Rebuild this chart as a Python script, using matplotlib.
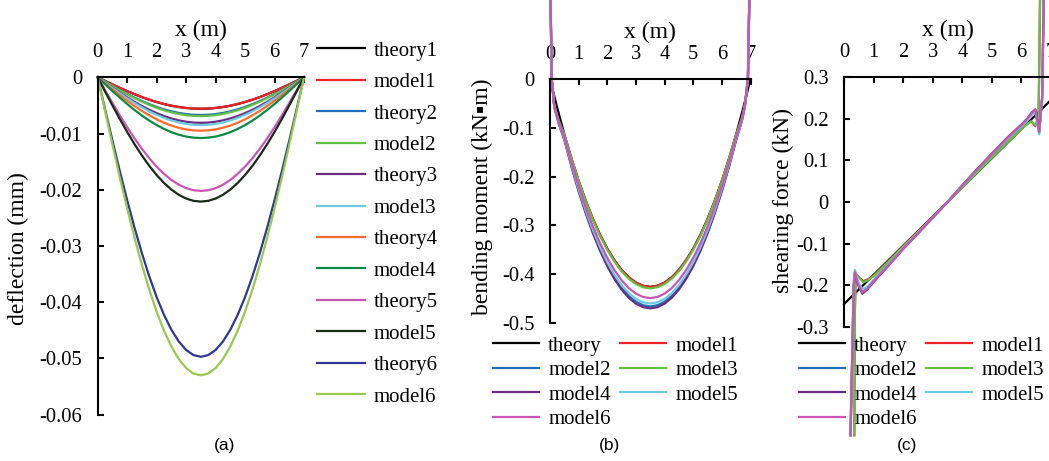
import numpy as np
import matplotlib
matplotlib.use('Agg')
import matplotlib.pyplot as plt

plt.rcParams['font.family'] = ['Liberation Serif', 'DejaVu Serif', 'DejaVu Sans']
plt.rcParams['axes.unicode_minus'] = False
plt.rcParams['font.size'] = 14.8

# ---- (a) deflection ----
x_a = [0, 0.25, 0.5, 0.75, 1, 1.25, 1.5, 1.75, 2, 2.25, 2.5, 2.75, 3, 3.25, 3.5,
       3.75, 4, 4.25, 4.5, 4.75, 5, 5.25, 5.5, 5.75, 6, 6.25, 6.5, 6.75, 7]
theory1 = [0, -0.00064, -0.00127, -0.00188, -0.00246, -0.00301, -0.00353, -0.00399, -0.00440, -0.00476, -0.00506, -0.00529, -0.00546, -0.00557, -0.0056,
           -0.00557, -0.00546, -0.00529, -0.00506, -0.00476, -0.00440, -0.00399, -0.00353, -0.00301, -0.00246, -0.00188, -0.00127, -0.00064, 0]
model1 = [0, -0.00064, -0.00126, -0.00187, -0.00245, -0.00300, -0.00351, -0.00398, -0.00439, -0.00474, -0.00504, -0.00527, -0.00544, -0.00555, -0.00558,
          -0.00555, -0.00544, -0.00527, -0.00504, -0.00474, -0.00439, -0.00398, -0.00351, -0.00300, -0.00245, -0.00187, -0.00126, -0.00064, 0]
theory2 = [0, -0.00076, -0.00152, -0.00225, -0.00295, -0.00361, -0.00422, -0.00477, -0.00527, -0.00570, -0.00605, -0.00633, -0.00654, -0.00666, -0.0067,
           -0.00666, -0.00654, -0.00633, -0.00605, -0.00570, -0.00527, -0.00477, -0.00422, -0.00361, -0.00295, -0.00225, -0.00152, -0.00076, 0]
model2 = [0, -0.00079, -0.00156, -0.00231, -0.00303, -0.00371, -0.00434, -0.00492, -0.00543, -0.00587, -0.00623, -0.00652, -0.00673, -0.00686, -0.0069,
          -0.00686, -0.00673, -0.00652, -0.00623, -0.00587, -0.00543, -0.00492, -0.00434, -0.00371, -0.00303, -0.00231, -0.00156, -0.00079, 0]
theory3 = [0, -0.00092, -0.00183, -0.00272, -0.00356, -0.00436, -0.00510, -0.00577, -0.00637, -0.00689, -0.00732, -0.00766, -0.00790, -0.00805, -0.0081,
           -0.00805, -0.00790, -0.00766, -0.00732, -0.00689, -0.00637, -0.00577, -0.00510, -0.00436, -0.00356, -0.00272, -0.00183, -0.00092, 0]
model3 = [0, -0.00097, -0.00192, -0.00285, -0.00374, -0.00457, -0.00535, -0.00606, -0.00668, -0.00723, -0.00768, -0.00804, -0.00829, -0.00845, -0.0085,
          -0.00845, -0.00829, -0.00804, -0.00768, -0.00723, -0.00668, -0.00606, -0.00535, -0.00457, -0.00374, -0.00285, -0.00192, -0.00097, 0]
theory4 = [0, -0.00108, -0.00215, -0.00319, -0.00418, -0.00511, -0.00598, -0.00677, -0.00747, -0.00808, -0.00858, -0.00898, -0.00927, -0.00944, -0.0095,
           -0.00944, -0.00927, -0.00898, -0.00858, -0.00808, -0.00747, -0.00677, -0.00598, -0.00511, -0.00418, -0.00319, -0.00215, -0.00108, 0]
model4 = [0, -0.00123, -0.00244, -0.00362, -0.00475, -0.00581, -0.00680, -0.00770, -0.00849, -0.00918, -0.00976, -0.01021, -0.01054, -0.01073, -0.0108,
          -0.01073, -0.01054, -0.01021, -0.00976, -0.00918, -0.00849, -0.00770, -0.00680, -0.00581, -0.00475, -0.00362, -0.00244, -0.00123, 0]
theory5 = [0, -0.00230, -0.00457, -0.00678, -0.00888, -0.01087, -0.01272, -0.01439, -0.01588, -0.01717, -0.01825, -0.01910, -0.01971, -0.02008, -0.0202,
           -0.02008, -0.01971, -0.01910, -0.01825, -0.01717, -0.01588, -0.01439, -0.01272, -0.01087, -0.00888, -0.00678, -0.00457, -0.00230, 0]
model5 = [0, -0.00252, -0.00500, -0.00741, -0.00972, -0.01189, -0.01391, -0.01575, -0.01738, -0.01879, -0.01996, -0.02089, -0.02156, -0.02197, -0.0221,
          -0.02197, -0.02156, -0.02089, -0.01996, -0.01879, -0.01738, -0.01575, -0.01391, -0.01189, -0.00972, -0.00741, -0.00500, -0.00252, 0]
theory6 = [0, -0.00567, -0.01125, -0.01667, -0.02186, -0.02675, -0.03129, -0.03541, -0.03908, -0.04225, -0.04489, -0.04698, -0.04849, -0.04940, -0.0497,
           -0.04940, -0.04849, -0.04698, -0.04489, -0.04225, -0.03908, -0.03541, -0.03129, -0.02675, -0.02186, -0.01667, -0.01125, -0.00567, 0]
model6 = [0, -0.00604, -0.01199, -0.01778, -0.02331, -0.02852, -0.03336, -0.03776, -0.04167, -0.04506, -0.04787, -0.05010, -0.05171, -0.05268, -0.0530,
          -0.05268, -0.05171, -0.05010, -0.04787, -0.04506, -0.04167, -0.03776, -0.03336, -0.02852, -0.02331, -0.01778, -0.01199, -0.00604, 0]
labels_a = ['theory1', 'model1', 'theory2', 'model2', 'theory3', 'model3',
            'theory4', 'model4', 'theory5', 'model5', 'theory6', 'model6']
yticks_a = [0, -0.01, -0.02, -0.03, -0.04, -0.05, -0.06]
ylabels_a = ['0', '-0.01', '-0.02', '-0.03', '-0.04', '-0.05', '-0.06']

# ---- (b) bending moment ----
x_b_theory = x_a
theory_b = [0, -0.0587, -0.1130, -0.1630, -0.2087, -0.2499, -0.2869, -0.3195, -0.3477, -0.3716, -0.3912, -0.4064, -0.4173, -0.4238, -0.426,
            -0.4238, -0.4173, -0.4064, -0.3912, -0.3716, -0.3477, -0.3195, -0.2869, -0.2499, -0.2087, -0.1630, -0.1130, -0.0587, 0]
x_b_model = [0.01, 0.06, 0.15, 0.3, 0.5, 0.75, 1, 1.25, 1.5, 1.75, 2, 2.25, 2.5, 2.75, 3, 3.25, 3.5,
             3.75, 4, 4.25, 4.5, 4.75, 5, 5.25, 5.5, 5.75, 6, 6.25, 6.5, 6.7, 6.8, 6.91, 6.97]
model1_b = [0.2, 0.0, -0.055, -0.085, -0.115, -0.163, -0.2087, -0.2499, -0.2869, -0.3195, -0.3477, -0.3716, -0.3912, -0.4064, -0.4173, -0.4238, -0.426,
            -0.4238, -0.4173, -0.4064, -0.3912, -0.3716, -0.3477, -0.3195, -0.2869, -0.2499, -0.2087, -0.163, -0.115, -0.08, -0.055, 0.0, 0.2]
model2_b = [0.2, 0.0, -0.058, -0.09, -0.1236, -0.1783, -0.2282, -0.2734, -0.3139, -0.3495, -0.3804, -0.4065, -0.4280, -0.4446, -0.4565, -0.4636, -0.466,
            -0.4636, -0.4565, -0.4446, -0.4280, -0.4065, -0.3804, -0.3495, -0.3139, -0.2734, -0.2282, -0.1783, -0.1236, -0.085, -0.058, 0.0, 0.2]
model3_b = [0.2, 0.0, -0.055, -0.085, -0.1138, -0.1642, -0.2101, -0.2517, -0.2889, -0.3218, -0.3502, -0.3743, -0.3940, -0.4093, -0.4203, -0.4268, -0.429,
            -0.4268, -0.4203, -0.4093, -0.3940, -0.3743, -0.3502, -0.3218, -0.2889, -0.2517, -0.2101, -0.1642, -0.1138, -0.08, -0.055, 0.0, 0.2]
model4_b = [0.2, 0.0, -0.058, -0.09, -0.1247, -0.1799, -0.2302, -0.2757, -0.3165, -0.3525, -0.3837, -0.4100, -0.4316, -0.4484, -0.4604, -0.4676, -0.470,
            -0.4676, -0.4604, -0.4484, -0.4316, -0.4100, -0.3837, -0.3525, -0.3165, -0.2757, -0.2302, -0.1799, -0.1247, -0.085, -0.058, 0.0, 0.2]
model5_b = [0.2, 0.0, -0.057, -0.088, -0.1220, -0.1760, -0.2253, -0.2699, -0.3098, -0.3450, -0.3755, -0.4013, -0.4225, -0.4389, -0.4506, -0.4577, -0.460,
            -0.4577, -0.4506, -0.4389, -0.4225, -0.4013, -0.3755, -0.3450, -0.3098, -0.2699, -0.2253, -0.1760, -0.1220, -0.084, -0.057, 0.0, 0.2]
model6_b = [0.2, 0.0, -0.056, -0.087, -0.1191, -0.1718, -0.2199, -0.2634, -0.3024, -0.3368, -0.3665, -0.3917, -0.4124, -0.4284, -0.4398, -0.4467, -0.449,
            -0.4467, -0.4398, -0.4284, -0.4124, -0.3917, -0.3665, -0.3368, -0.3024, -0.2634, -0.2199, -0.1718, -0.1191, -0.083, -0.056, 0.0, 0.2]
labels_bc = ['theory', 'model1', 'model2', 'model3', 'model4', 'model5', 'model6']
yticks_b = [0, -0.1, -0.2, -0.3, -0.4, -0.5]
ylabels_b = ['0', '-0.1', '-0.2', '-0.3', '-0.4', '-0.5']

# ---- (c) shearing force ----
x_c_theory = [0, 7]
theory_c = [-0.245, 0.245]
x_c_a = [0.35, 0.37, 0.40, 0.5, 0.65, 0.8, 1.0, 1.5, 2.0, 2.5, 3.0, 3.5, 4.0, 4.5, 5.0, 5.5, 6.0, 6.2, 6.34, 6.47, 6.58, 6.64]
model1_c = [-0.56, -0.26, -0.172, -0.18, -0.19, -0.186, -0.177, -0.142, -0.106, -0.071, -0.036, 0.0, 0.036, 0.072, 0.107, 0.142, 0.176, 0.188, 0.193, 0.182, 0.2, 0.55]
model3_c = [-0.56, -0.25, -0.175, -0.18, -0.193, -0.188, -0.178, -0.143, -0.107, -0.072, -0.036, 0.0, 0.035, 0.071, 0.106, 0.141, 0.175, 0.187, 0.194, 0.184, 0.205, 0.55]
x_c_b = [0.22, 0.33, 0.37, 0.47, 0.62, 0.8, 1.0, 1.5, 2.0, 2.5, 3.0, 3.5, 4.0, 4.5, 5.0, 5.5, 6.0, 6.2, 6.35, 6.47, 6.6, 6.7, 6.77]
model2_c = [-0.56, -0.2, -0.168, -0.195, -0.212, -0.205, -0.188, -0.15, -0.111, -0.074, -0.037, 0.0, 0.039, 0.077, 0.114, 0.15, 0.183, 0.198, 0.212, 0.22, 0.168, 0.25, 0.55]
model4_c = [-0.56, -0.2, -0.17, -0.198, -0.22, -0.209, -0.192, -0.153, -0.113, -0.076, -0.038, 0.0, 0.04, 0.079, 0.116, 0.153, 0.186, 0.2, 0.215, 0.222, 0.167, 0.25, 0.55]
model5_c = [-0.56, -0.19, -0.163, -0.19, -0.21, -0.203, -0.188, -0.15, -0.111, -0.074, -0.037, 0.0, 0.039, 0.077, 0.114, 0.15, 0.182, 0.196, 0.21, 0.215, 0.162, 0.25, 0.55]
model6_c = [-0.56, -0.2, -0.168, -0.196, -0.217, -0.207, -0.19, -0.152, -0.112, -0.075, -0.037, 0.0, 0.04, 0.078, 0.115, 0.152, 0.185, 0.2, 0.214, 0.222, 0.168, 0.25, 0.55]
yticks_c = [0.3, 0.2, 0.1, 0, -0.1, -0.2, -0.3]
ylabels_c = ['0.3', '0.2', '0.1', '0', '-0.1', '-0.2', '-0.3']

xticks = [0, 1, 2, 3, 4, 5, 6, 7]

colors_a = ['#000000', '#ee2228', '#1f6fba', '#62c044', '#6b2d80', '#6ccbe2',
            '#ff6a2c', '#0b8a45', '#c955b6', '#1b2a1b', '#2f3896', '#98c94c']
colors_bc = ['#000000', '#ee2228', '#1f6fba', '#62c044', '#6b2d80', '#6ccbe2', '#c955b6']

W, H = 1049, 461
fig = plt.figure(figsize=(W / 100, H / 100), dpi=100)


def frame(ax, yticks, ylabels):
    ax.xaxis.tick_top()
    ax.xaxis.set_label_position('top')
    ax.spines['right'].set_visible(False)
    ax.spines['bottom'].set_visible(False)
    ax.spines['left'].set_linewidth(1.5)
    ax.spines['top'].set_linewidth(1.5)
    ax.set_xlim(0, 7)
    ax.set_xticks(xticks)
    ax.set_yticks(yticks)
    ax.set_yticklabels(ylabels)
    ax.tick_params(direction='in', length=4, width=1.5, pad=11, labelsize=14.8)
    ax.set_xlabel('x (m)', fontsize=17, labelpad=5)
    ax.patch.set_alpha(0)


ax1 = fig.add_axes([97.7 / W, 1 - 414.7 / H, 206.3 / W, 337.4 / H])
series_a = [theory1, model1, theory2, model2, theory3, model3,
            theory4, model4, theory5, model5, theory6, model6]
for y, lab, c in zip(series_a, labels_a, colors_a):
    ax1.plot(x_a, y, color=c, lw=1.6, label=lab, clip_on=False)
ax1.set_ylim(-0.06, 0)
frame(ax1, yticks_a, ylabels_a)
ax1.legend(loc='upper left', bbox_to_anchor=(317 / W, 1 - 41 / H), bbox_transform=fig.transFigure,
           frameon=False, borderpad=0, borderaxespad=0, handlelength=2.3, handletextpad=0.4,
           labelspacing=0.57, fontsize=15)

ax2 = fig.add_axes([550 / W, 1 - 323 / H, 200.5 / W, 244 / H])
ax2.plot(x_b_theory, theory_b, color=colors_bc[0], lw=1.6, label=labels_bc[0], clip_on=False)
series_b = [model1_b, model2_b, model3_b, model4_b, model5_b, model6_b]
for y, lab, c in zip(series_b, labels_bc[1:], colors_bc[1:]):
    ax2.plot(x_b_model, y, color=c, lw=1.6, label=lab, clip_on=False)
ax2.set_ylim(-0.5, 0)
frame(ax2, yticks_b, ylabels_b)

ax3 = fig.add_axes([844 / W, 1 - 327 / H, 207 / W, 250 / H])
ax3.plot(x_c_theory, theory_c, color=colors_bc[0], lw=1.6, label=labels_bc[0], clip_on=False)
series_c = [(x_c_a, model1_c), (x_c_b, model2_c), (x_c_a, model3_c),
            (x_c_b, model4_c), (x_c_b, model5_c), (x_c_b, model6_c)]
for (xx, y), lab, c in zip(series_c, labels_bc[1:], colors_bc[1:]):
    ax3.plot(xx, y, color=c, lw=1.6, label=lab, clip_on=False)
ax3.set_ylim(-0.3, 0.3)
frame(ax3, yticks_c, ylabels_c)

# two-column legends filled row by row
order = [0, 2, 4, 6, 1, 3, 5]
for ax, left in [(ax2, 493), (ax3, 799)]:
    h, l = ax.get_legend_handles_labels()
    ax.legend([h[i] for i in order], [l[i] for i in order], ncol=2,
              loc='upper left', bbox_to_anchor=(left / W, 1 - 336 / H), bbox_transform=fig.transFigure,
              frameon=False, borderpad=0, borderaxespad=0, handlelength=2.2, handletextpad=0.45,
              labelspacing=0.24, columnspacing=0.45, fontsize=15)

fig.text(18 / W, 1 - 249 / H, 'deflection (mm)', rotation=90, ha='center', va='center', fontsize=17)
fig.text(482 / W, 1 - 197 / H, 'bending moment (kN\u25aam)', rotation=90, ha='center', va='center', fontsize=17)
fig.text(783 / W, 1 - 200 / H, 'shearing force (kN)', rotation=90, ha='center', va='center', fontsize=17)

for xp, txt in [(225, '(a)'), (610, '(b)'), (907, '(c)')]:
    fig.text(xp / W, 1 - 445 / H, txt, ha='center', va='center', fontsize=12.5, family='Liberation Sans')

fig.savefig('out.png', dpi=100)
